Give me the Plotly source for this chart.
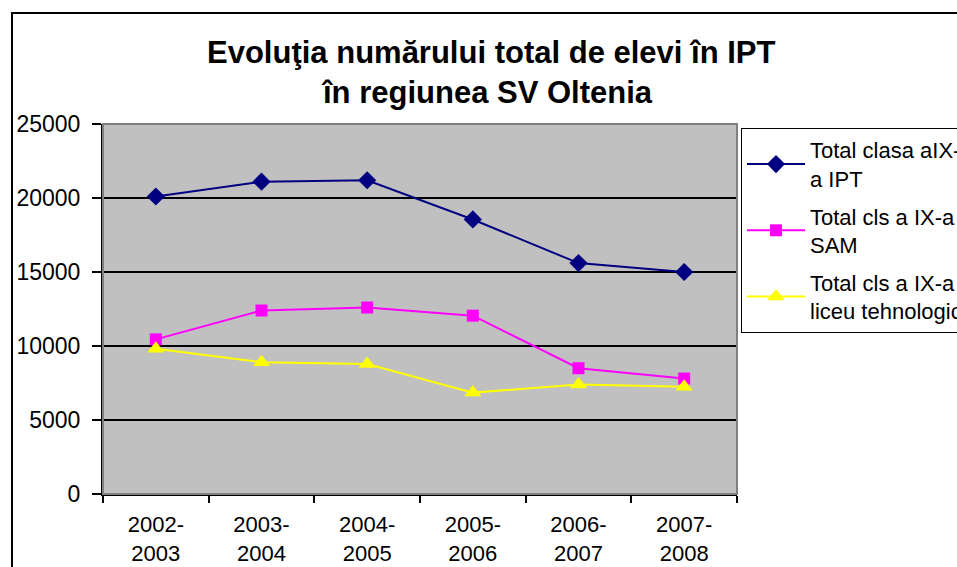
import plotly.graph_objects as go

# ---- data ----
years = ["2002-<br>2003", "2003-<br>2004", "2004-<br>2005",
         "2005-<br>2006", "2006-<br>2007", "2007-<br>2008"]
total_ipt = [20100, 21100, 21200, 18550, 15600, 15000]
total_sam = [10450, 12400, 12600, 12050, 8500, 7800]
total_liceu = [9820, 8900, 8780, 6850, 7400, 7250]

names = ["Total clasa aIX-<br>a IPT",
         "Total cls a IX-a<br>SAM",
         "Total cls a IX-a<br>liceu tehnologic"]

FONT = "Arial, Liberation Sans, sans-serif"

# body margin is removed in the page (post_script), so figure fills the window
# plot area on screen: x 103..737, y 124..494
W, H = 957, 567
L, T = 103, 124
R = W - 737
B = H - 494
pw, ph = W - L - R, H - T - B


def px(sx):
    return (sx - L) / pw


def py(sy):
    return (H - B - sy) / ph


fig = go.Figure()

styles = [
    dict(color="#000080", symbol="diamond", size=14, width=2),
    dict(color="#FF00FF", symbol="square", size=12, width=2),
    dict(color="#FFFF00", symbol="triangle-up", size=15, width=2),
]

for i, (vals, st) in enumerate(zip([total_ipt, total_sam, total_liceu], styles)):
    fig.add_trace(go.Scatter(
        x=years, y=vals, mode="lines+markers", name=names[i],
        legendgroup=f"g{i}",
        line=dict(color=st["color"], width=st["width"]),
        marker=dict(symbol=st["symbol"], size=st["size"], color=st["color"],
                    line=dict(width=0)),
    ))

# titles (two lines, wider spacing than plotly's <br>)
fig.add_annotation(text="<b>Evoluţia numărului total de elevi în IPT</b>",
                   xref="paper", yref="paper", x=px(491), y=py(52),
                   xanchor="center", yanchor="middle",
                   showarrow=False, font=dict(size=31, color="black", family=FONT))
fig.add_annotation(text="<b>în regiunea SV Oltenia</b>",
                   xref="paper", yref="paper", x=px(487), y=py(93),
                   xanchor="center", yanchor="middle",
                   showarrow=False, font=dict(size=31, color="black", family=FONT))

# outer chart border and plot-area frame
fig.add_shape(type="rect", xref="paper", yref="paper",
              x0=px(12), x1=px(1000), y0=py(620), y1=py(13),
              line=dict(color="black", width=2), layer="below")
fig.add_shape(type="rect", xref="paper", yref="paper",
              x0=0, x1=1, y0=0, y1=1,
              line=dict(color="#808080", width=2), layer="above")

fig.update_layout(
    width=W, height=H,
    margin=dict(l=L, r=R, t=T, b=B, autoexpand=False),
    paper_bgcolor="white",
    plot_bgcolor="#C0C0C0",
    font=dict(family=FONT, color="black"),
    showlegend=True,
    legend=dict(
        x=px(741), y=py(128), xanchor="left", yanchor="top",
        bgcolor="white", bordercolor="black", borderwidth=1,
        font=dict(size=22, family=FONT, color="black"),
        traceorder="grouped", tracegroupgap=6, itemwidth=58,
    ),
)

fig.update_xaxes(
    type="category", tickson="boundaries", ticks="outside", ticklen=7,
    tickcolor="black", tickwidth=2, showgrid=False,
    showline=True, linecolor="black", linewidth=2,
    tickfont=dict(size=22, family=FONT, color="black"),
    ticklabelstandoff=10,
    range=[-0.5, 5.5], fixedrange=True,
)
fig.update_yaxes(
    range=[0, 25000], dtick=5000, tickformat="d", ticks="outside", ticklen=9,
    tickcolor="black", tickwidth=2,
    showgrid=True, gridcolor="black", gridwidth=2,
    zeroline=True, zerolinecolor="black", zerolinewidth=2,
    showline=True, linecolor="black", linewidth=2,
    tickfont=dict(size=23, family=FONT, color="black"),
    ticklabelstandoff=7,
    fixedrange=True,
)

fig.write_html(
    "out.html",
    config={"displayModeBar": False},
    post_script="document.body.style.margin='0';document.body.style.overflow='hidden';",
)
